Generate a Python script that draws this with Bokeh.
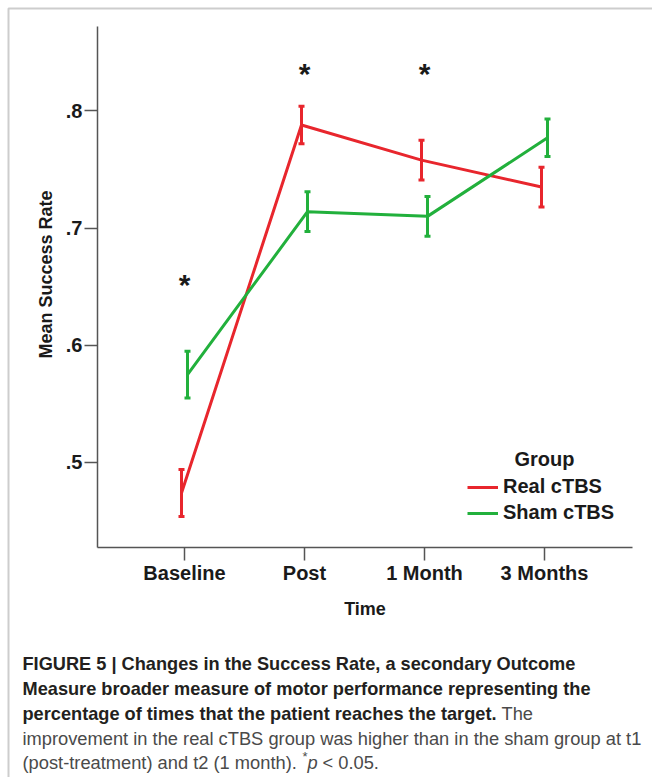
import math

from bokeh.plotting import figure
from bokeh.models import (ColumnDataSource, Whisker, TeeHead, FixedTicker, Label,
                          Legend, LegendItem, BoxAnnotation, Range1d)
from bokeh.core.properties import value
from bokeh.embed import file_html
from bokeh.resources import INLINE

# --- data -------------------------------------------------------------
categories = ["Baseline", "Post", "1 Month", "3 Months"]
real_mean = [0.474, 0.788, 0.758, 0.735]
real_err = [0.020, 0.016, 0.017, 0.017]
sham_mean = [0.575, 0.714, 0.710, 0.777]
sham_err = [0.020, 0.017, 0.017, 0.016]
y_ticks = [0.5, 0.6, 0.7, 0.8]
y_tick_labels = [".5", ".6", ".7", ".8"]
sig_categories = ["Baseline", "Post", "1 Month"]
sig_y = [0.652, 0.832, 0.832]

caption_bold = [
    "FIGURE 5 | Changes in the Success Rate, a secondary Outcome",
    "Measure broader measure of motor performance representing the",
    "percentage of times that the patient reaches the target.",
]
caption_regular = [
    "The",
    "improvement in the real cTBS group was higher than in the sham group at t1",
    "(post-treatment) and t2 (1 month).",
]

# --- styling ----------------------------------------------------------
RED = "#e8262d"
GREEN = "#22b03c"
AXIS = "#555555"
INK = "#1a1a1a"
FONT = "Liberation Sans"
W, H = 652, 777
DODGE = 0.025

# The frame fills the whole canvas; the chart axes sit at fixed positions
# inside it so the caption and the outer rule can share the same canvas.
X_LO, X_HI = 0.275, 4.733        # extent of the x axis
Y_LO, Y_HI = 0.4275, 0.872       # extent of the y axis

pos = {c: i + 1 for i, c in enumerate(categories)}

p = figure(width=W, height=H, output_backend="svg", toolbar_location=None,
           x_range=Range1d(-0.5333, 4.9), y_range=Range1d(0.2312, 0.8942),
           min_border=0)
p.outline_line_color = None
p.grid.grid_line_color = None
p.background_fill_color = "white"
p.border_fill_color = "white"


def series(mean, err, shift):
    x = [pos[c] + shift for c in categories]
    return ColumnDataSource(dict(
        x=x, y=mean,
        upper=[m + e for m, e in zip(mean, err)],
        lower=[m - e for m, e in zip(mean, err)],
    ))


lines = []
for mean, err, shift, color in [(real_mean, real_err, -DODGE, RED),
                                (sham_mean, sham_err, DODGE, GREEN)]:
    src = series(mean, err, shift)
    lines.append(p.line("x", "y", source=src, line_color=color, line_width=3,
                        line_join="round"))
    p.add_layout(Whisker(source=src, base="x", upper="upper", lower="lower",
                         dimension="height", line_color=color, line_width=3,
                         upper_head=TeeHead(size=6, line_color=color, line_width=3),
                         lower_head=TeeHead(size=6, line_color=color, line_width=3)))

# significance markers
p.text(x=[pos[c] for c in sig_categories], y=sig_y, text=["*"] * len(sig_y),
       text_font=value(FONT), text_font_size="30px", text_font_style="bold",
       text_color=INK, text_align="center", text_baseline="middle")

# --- axes -------------------------------------------------------------
for ax in (p.xaxis[0], p.yaxis[0]):
    ax.axis_line_color = AXIS
    ax.axis_line_width = 1.5
    ax.major_tick_line_color = AXIS
    ax.major_tick_line_width = 1.5
    ax.major_tick_out = 13
    ax.major_tick_in = 0
    ax.minor_tick_line_color = None
    ax.major_label_text_font = FONT
    ax.major_label_text_font_style = "bold"
    ax.major_label_text_font_size = "20px"
    ax.major_label_text_color = INK
    ax.axis_label_text_font = FONT
    ax.axis_label_text_font_style = "bold"
    ax.axis_label_text_font_size = "18px"
    ax.axis_label_text_color = INK

p.xaxis.fixed_location = Y_LO
p.xaxis.bounds = (X_LO, X_HI)
p.xaxis.ticker = FixedTicker(ticks=[pos[c] for c in categories])
p.xaxis.major_label_overrides = {pos[c]: c for c in categories}
p.xaxis.major_label_standoff = 2
p.xaxis.axis_label = "Time"
p.xaxis.axis_label_standoff = 11

p.yaxis.fixed_location = X_LO
p.yaxis.bounds = (Y_LO, Y_HI)
p.yaxis.ticker = FixedTicker(ticks=y_ticks)
p.yaxis.major_label_overrides = dict(zip(y_ticks, y_tick_labels))
p.yaxis.major_label_standoff = 2
p.yaxis.major_label_orientation = "horizontal"

# --- legend -----------------------------------------------------------
legend = Legend(items=[LegendItem(label="Real cTBS", renderers=[lines[0]]),
                       LegendItem(label="Sham cTBS", renderers=[lines[1]])],
                location=(467, H - 524),
                border_line_color=None, background_fill_alpha=0,
                padding=0, margin=0, spacing=3,
                glyph_width=31, glyph_height=20, label_height=20, label_standoff=5,
                label_text_font=FONT, label_text_font_style="bold",
                label_text_font_size="20px", label_text_color=INK)
p.add_layout(legend)


def note(text, x, y, style="normal", size="18.3px", color="#4a4a4a",
         align="left", baseline="alphabetic", angle=0.0):
    # x, y are canvas pixels measured from the top-left corner
    p.add_layout(Label(x=x, y=H - y, x_units="screen", y_units="screen",
                       text=text, text_font=FONT, text_font_style=style,
                       text_font_size=size, text_color=color, angle=angle,
                       text_align=align, text_baseline=baseline))


note("Group", 544, 458, style="bold", size="20px", color=INK,
     align="center", baseline="middle")

# y axis title, centred over the plotted span
note("Mean Success Rate", 45, 274, style="bold", size="18px", color=INK,
     align="center", baseline="middle", angle=math.pi / 2)

# --- outer rule (left and top edges) ----------------------------------
p.add_layout(BoxAnnotation(left=8, right=W + 40, top=H - 8, bottom=-40,
                           left_units="screen", right_units="screen",
                           top_units="screen", bottom_units="screen",
                           fill_color=None, fill_alpha=0,
                           line_color="#5a5a5a", line_width=2))

# --- caption ----------------------------------------------------------
CAP_X = 22
baselines = [663, 688, 713, 738, 762]
for line, b in zip(caption_bold, baselines[:3]):
    note(line, CAP_X, b, style="bold", size="18.2px", color="#231f20")
note(caption_regular[0], 501, baselines[2])
note(caption_regular[1], CAP_X, baselines[3])
note(caption_regular[2], CAP_X, baselines[4])
note("*", 302, baselines[4] - 6, size="13px")
note("p", 307, baselines[4], style="italic")
note("< 0.05.", 322, baselines[4])

open("out.html", "w").write(file_html(p, INLINE))
